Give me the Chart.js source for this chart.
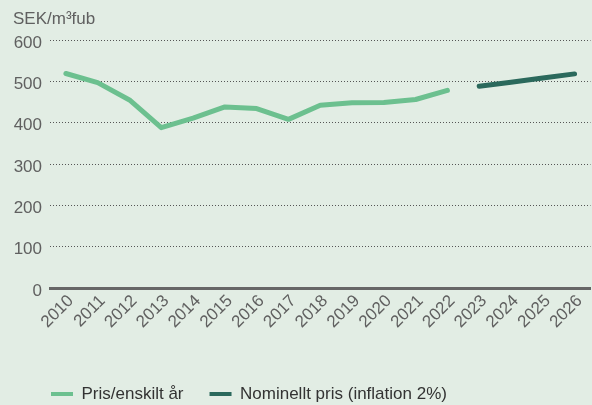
<!DOCTYPE html>
<html>
<head>
<meta charset="utf-8">
<script src="https://cdn.jsdelivr.net/npm/chart.js@4/dist/chart.umd.min.js"></script>
<style>
  html, body { margin: 0; padding: 0; background: #e2ede4; }
  #wrap { width: 592px; height: 405px; position: relative; }
</style>
</head>
<body>
<div id="wrap"><canvas id="c"></canvas></div>
<script>
// Years on the category axis
const years = ['2010', '2011', '2012', '2013', '2014', '2015', '2016', '2017', '2018',
               '2019', '2020', '2021', '2022', '2023', '2024', '2025', '2026'];

// Price per single year (SEK/m³fub), 2010–2022
const prisEnskiltAr = [519, 497, 455, 388, 411, 438, 434, 408, 442, 448, 449, 456, 478,
                       null, null, null, null];

// Nominal price with 2 % inflation, 2023–2026
const nominelltPris = [null, null, null, null, null, null, null, null, null, null, null, null, null,
                       488, 498, 508, 518];

const seriesNames = ['Pris/enskilt år', 'Nominellt pris (inflation 2%)'];
const unitLabel = 'SEK/m³fub';
const yMin = 0, yMax = 600, yStep = 100;

const FONT = 'Liberation Sans, Arial, Helvetica, sans-serif';
const LIGHT = '#6cc08f';
const DARK = '#2b695c';

// Unit text above the value axis
const unitPlugin = {
  id: 'unitLabel',
  afterDraw(chart) {
    const ctx = chart.ctx;
    ctx.save();
    ctx.font = '17px ' + FONT;
    ctx.fillStyle = '#606060';
    ctx.textAlign = 'left';
    ctx.textBaseline = 'middle';
    ctx.fillText(unitLabel, 13, 19);
    ctx.restore();
  }
};

// Place the legend row under the axis labels, starting at the plot's left edge
const legendPlacement = {
  id: 'legendPlacement',
  afterLayout(chart) {
    const lg = chart.legend;
    if (!lg) return;
    const pad = lg.options.labels.padding;
    lg.left = 51 - pad;
    lg.top = 394 - pad - 8.5;
  }
};

new Chart(document.getElementById('c'), {
  type: 'line',
  data: {
    labels: years,
    datasets: [
      {
        label: seriesNames[0],
        data: prisEnskiltAr,
        borderColor: LIGHT,
        backgroundColor: LIGHT,
        borderWidth: 5,
        borderCapStyle: 'round',
        borderJoinStyle: 'round',
        pointRadius: 0,
        tension: 0,
        spanGaps: false
      },
      {
        label: seriesNames[1],
        data: nominelltPris,
        borderColor: DARK,
        backgroundColor: DARK,
        borderWidth: 5,
        borderCapStyle: 'round',
        borderJoinStyle: 'round',
        pointRadius: 0,
        tension: 0,
        spanGaps: false
      }
    ]
  },
  options: {
    responsive: true,
    maintainAspectRatio: false,
    animation: false,
    layout: { padding: { top: 40, right: 0, left: 0, bottom: 0 } },
    plugins: {
      tooltip: { enabled: false },
      title: { display: false },
      legend: {
        display: true,
        position: 'bottom',
        align: 'start',
        labels: {
          boxWidth: 22,
          boxHeight: 4,
          padding: 26,
          color: '#333333',
          font: { family: FONT, size: 17 },
          generateLabels(chart) {
            return chart.data.datasets.map((ds, i) => ({
              text: ds.label,
              fillStyle: ds.borderColor,
              strokeStyle: 'rgba(0,0,0,0)',
              lineWidth: 0,
              hidden: false,
              datasetIndex: i,
              fontColor: '#333333'
            }));
          }
        }
      }
    },
    scales: {
      x: {
        type: 'category',
        offset: true,
        grid: { display: false, drawTicks: false },
        border: { display: true, color: '#666666', width: 3 },
        ticks: {
          autoSkip: false,
          minRotation: 45,
          maxRotation: 45,
          padding: 3,
          labelOffset: 5,
          color: '#606060',
          font: { family: FONT, size: 17 }
        },
        afterFit(scale) {
          const lg = scale.chart.legend;
          const lh = lg ? lg.height : 0;
          scale.height = 405 - 288 - lh;
        }
      },
      y: {
        min: yMin,
        max: yMax,
        grid: {
          drawTicks: false,
          lineWidth: 1,
          color: (c) => (c.tick && c.tick.value === 0) ? 'rgba(0,0,0,0)' : '#555555'
        },
        border: { display: false, dash: [1, 2] },
        ticks: {
          stepSize: yStep,
          padding: 8,
          labelOffset: 3,
          color: '#606060',
          font: { family: FONT, size: 17 }
        },
        afterFit(scale) { scale.width = 50; }
      }
    }
  },
  plugins: [unitPlugin, legendPlacement]
});
</script>
</body>
</html>
